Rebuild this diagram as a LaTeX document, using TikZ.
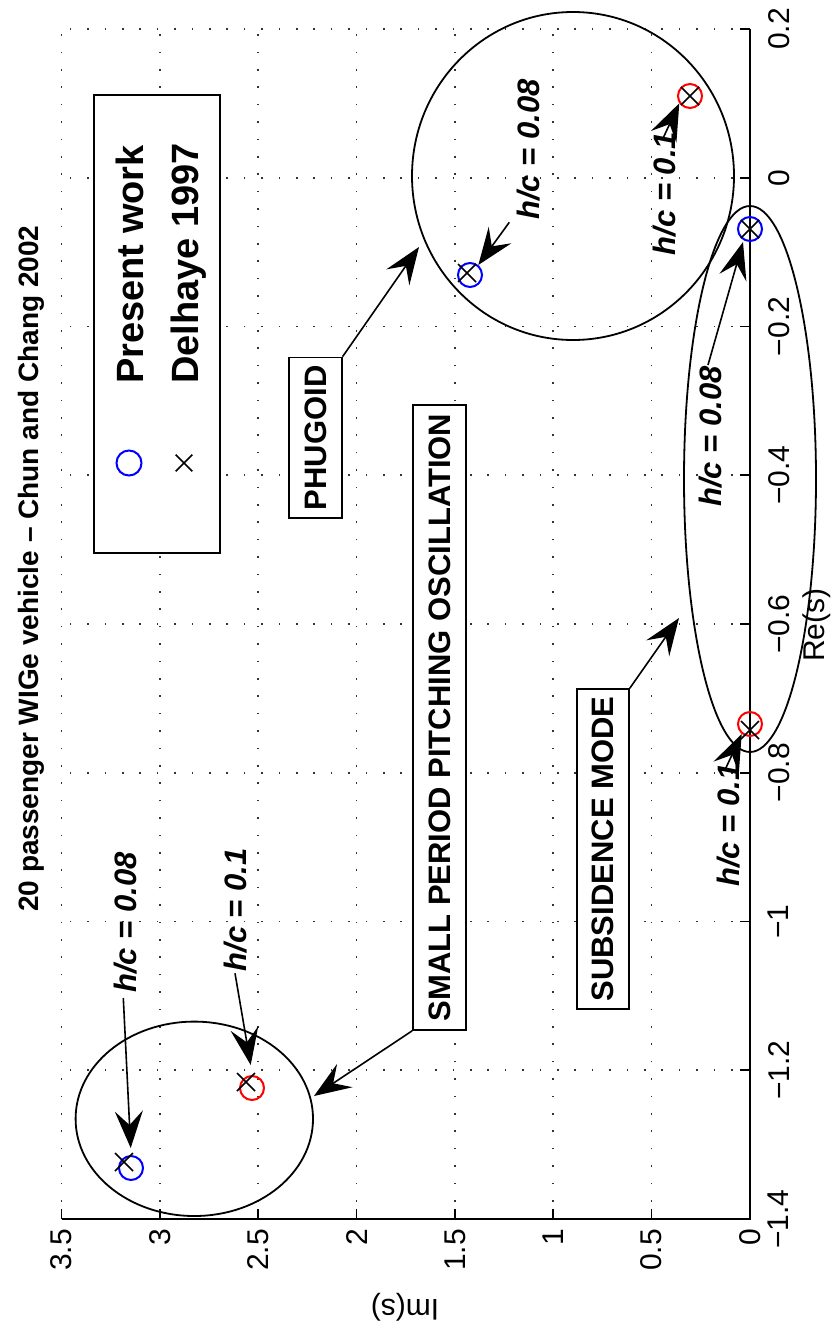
\documentclass[tikz,border=0pt]{standalone}
\usepackage{fontspec}
\setmainfont{Liberation Sans}
\usetikzlibrary{arrows.meta}
\begin{document}
\begin{tikzpicture}[x=1pt,y=-1pt,
  gridln/.style={black!80, line width=1.6pt, dash pattern=on 1.6pt off 15.8pt},
  axisline/.style={black, line width=1.6pt},
  ellip/.style={black, line width=1.8pt},
  bluemk/.style={blue, line width=2pt},
  redmk/.style={red, line width=2pt},
  xmk/.style={black, line width=1.6pt},
  arr/.style={black, line width=1.6pt, -{Stealth[length=37pt,width=28pt,inset=14pt]}},
  boxlbl/.style={draw, line width=1.6pt, fill=white, rotate=90, inner sep=0pt,
                 font=\fontsize{31}{36}\selectfont\bfseries},
  hclbl/.style={rotate=90, anchor=base west, inner sep=0pt,
                font=\fontsize{31}{36}\selectfont\bfseries\itshape},
  legtxt/.style={rotate=90, anchor=base west, inner sep=0pt,
                 font=\fontsize{38}{44}\selectfont\bfseries},
  ticklbl/.style={rotate=90, inner sep=0pt, font=\fontsize{30}{36}\selectfont}
]
\useasboundingbox (0,0) rectangle (839,1328);

% grid
\foreach \k in {1,...,7} \draw[gridln] (750-98.357*\k,1219) -- (750-98.357*\k,29);
\foreach \k in {0,...,7} \draw[gridln] (750,29+148.75*\k) -- (61.5,29+148.75*\k);

% ellipses
\draw[ellip] (194.3,1118.8) ellipse [x radius=118.7, y radius=97.2];
\draw[ellip] (573,176) ellipse [x radius=161, y radius=164];
\draw[ellip] (750,479) ellipse [x radius=66, y radius=273];

% axes and ticks
\draw[axisline] (61.5,1219) -- (750,1219) -- (750,29);
\foreach \k in {0,...,7} \draw[axisline] (750-98.357*\k,1219) -- (750-98.357*\k,1209);
\foreach \k in {0,...,8} \draw[axisline] (750,29+148.75*\k) -- (740,29+148.75*\k);

% tick labels
\foreach \v [count=\i from 0] in {0,0.5,1,1.5,2,2.5,3,3.5}
  \node[ticklbl, anchor=east] (im\i) at (750-98.357*\i,1229) {\v};
\foreach \v [count=\i from 0] in {0.2,0,−0.2,−0.4,−0.6,−0.8,−1,−1.2,−1.4}
  \node[ticklbl, anchor=north] (re\i) at (768,29+148.75*\i) {\v};
\node[ticklbl, anchor=north] (relabel) at (803,625) {Re(s)};
\node[rotate=180, inner sep=0pt, font=\fontsize{30}{36}\selectfont] (imlabel) at (405,1307) {Im(s)};

% title
\node[rotate=90, anchor=base west, inner sep=0pt, font=\fontsize{28}{34}\selectfont\bfseries]
  (title) at (38,912) {20 passenger WIGe vehicle – Chun and Chang 2002};

% markers
\draw[bluemk] (131,1168) circle [radius=12];
\draw[bluemk] (470,275) circle [radius=12];
\draw[bluemk] (750,229) circle [radius=12];
\draw[redmk] (252,1088) circle [radius=12];
\draw[redmk] (690,96) circle [radius=12];
\draw[redmk] (750,724) circle [radius=12];
\foreach \px/\py in {124/1162, 246/1082, 467/273, 690/96, 750/229, 750/730}
  \draw[xmk] (\px-9,\py-9) -- (\px+9,\py+9) (\px-9,\py+9) -- (\px+9,\py-9);

% legend
\node[draw, line width=1.6pt, fill=white, minimum width=126pt, minimum height=458pt, inner sep=0pt]
  (legend) at (157,324) {};
\node[legtxt] (lg1) at (143,384) {Present work};
\node[legtxt] (lg2) at (198,384) {Delhaye 1997};
\draw[bluemk] (129,463) circle [radius=12.5];
\draw[xmk] (184-8.3,463-8.3) -- (184+8.3,463+8.3) (184-8.3,463+8.3) -- (184+8.3,463-8.3);

% mode boxes
\node[boxlbl, minimum width=160.5pt, minimum height=52.5pt] (phug) at (315.5,437.75) {PHUGOID};
\node[boxlbl, minimum width=625pt, minimum height=53pt] (spbox) at (439.5,717.5) {SMALL PERIOD PITCHING OSCILLATION};
\node[boxlbl, minimum width=320pt, minimum height=52pt] (subbox) at (603,849) {SUBSIDENCE MODE};

\coordinate (spTip) at (314,1096);
\coordinate (phTip) at (419,247);
\coordinate (sbTip) at (679,618);
\draw[arr] (spbox.north west) -- (spTip);
\draw[arr] (phug.south east) -- (phTip);
\draw[arr] (subbox.south east) -- (sbTip);

% h/c labels
\node[hclbl] (hcA) at (136.5,993) {h/c = 0.08};
\node[hclbl] (hcB) at (246.5,971.7) {h/c = 0.1};
\node[hclbl] (hcC) at (539.5,220) {h/c = 0.08};
\node[hclbl] (hcD) at (675.5,255.5) {h/c = 0.1};
\node[hclbl] (hcE) at (721,507) {h/c = 0.08};
\node[hclbl] (hcF) at (739,887) {h/c = 0.1};

\coordinate (tA) at (123.3,998);   \coordinate (pA) at (130.7,1148);
\coordinate (tB) at (235,973.3);   \coordinate (pB) at (250.7,1065);
\coordinate (tC) at (509.3,222.3); \coordinate (pC) at (478.3,265);
\coordinate (tD) at (662.4,139.6); \coordinate (pD) at (679.3,103.3);
\coordinate (tE) at (708,365);     \coordinate (pE) at (743,242);
\coordinate (tF) at (724.8,770.3); \coordinate (pF) at (741.7,734);
\draw[arr] (tA) -- (pA);
\draw[arr] (tB) -- (pB);
\draw[arr] (tC) -- (pC);
\draw[arr] (tD) -- (pD);
\draw[arr] (tE) -- (pE);
\draw[arr] (tF) -- (pF);
\end{tikzpicture}
\end{document}
